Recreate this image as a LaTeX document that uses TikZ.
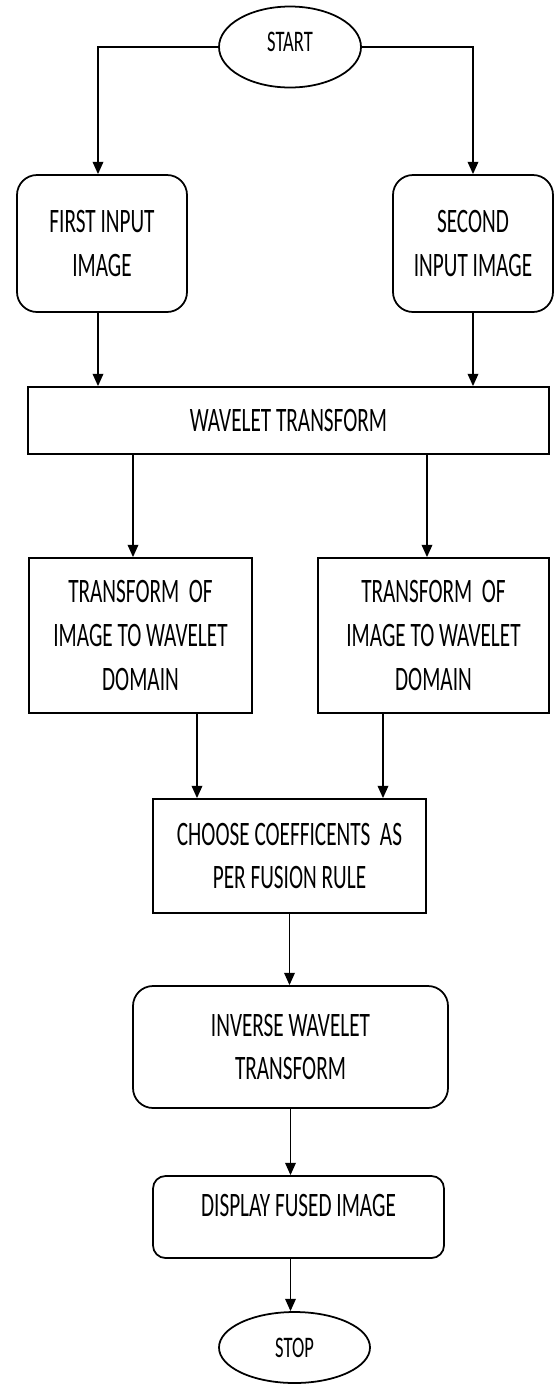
\documentclass[tikz,border=0pt]{standalone}
\usepackage{fontspec}
\setmainfont{Carlito}[FakeStretch=0.62]
\usetikzlibrary{arrows.meta, positioning, calc, shapes.geometric}

\begin{document}
\begin{tikzpicture}[
    box/.style={rectangle, draw, line width=1pt, fill=white, align=center, inner sep=0pt, font=\fontsize{19.5}{25}\selectfont},
    rbox/.style={box, rounded corners=0.4cm},
    term/.style={ellipse, draw, line width=1pt, fill=white, inner sep=0pt, font=\fontsize{17}{20}\selectfont},
    arrow/.style={-{Triangle[width=6pt,length=7pt]}, line width=1pt}
]

    % Page frame
    \useasboundingbox (0,0) rectangle (11.1,-27.7);

    % --- Terminals ---
    \node[term, minimum width=2.84cm, minimum height=1.62cm, text depth=0.2cm] (start) at (5.8,-0.94) {START};
    \node[term, minimum width=3.02cm, minimum height=1.42cm] (stop) at (5.89,-26.95) {STOP};

    % --- Inputs ---
    \node[rbox, minimum width=3.4cm, minimum height=2.74cm] (first) at (2.04,-4.87) {FIRST INPUT\\IMAGE};
    \node[rbox, minimum width=3.2cm, minimum height=2.74cm] (second) at (9.46,-4.87) {SECOND\\INPUT IMAGE};

    % --- Transform stage ---
    \node[box, minimum width=10.42cm, minimum height=1.34cm] (wavelet) at (5.77,-8.41) {WAVELET TRANSFORM};
    \node[box, minimum width=4.46cm, minimum height=3.1cm] (tleft) at (2.81,-12.71) {TRANSFORM\ \ OF\\IMAGE TO WAVELET\\DOMAIN};
    \node[box, minimum width=4.62cm, minimum height=3.1cm] (tright) at (8.67,-12.71) {TRANSFORM\ \ OF\\IMAGE TO WAVELET\\DOMAIN};

    % --- Fusion and output ---
    \node[box, minimum width=5.46cm, minimum height=2.28cm] (choose) at (5.79,-17.12) {CHOOSE COEFFICENTS\ \ AS\\PER FUSION RULE};
    \node[rbox, minimum width=6.3cm, minimum height=2.44cm] (inverse) at (5.81,-20.94) {INVERSE WAVELET\\TRANSFORM};
    \node[box, rounded corners=0.25cm, minimum width=5.82cm, minimum height=1.64cm, text depth=0.45cm] (display) at (5.97,-24.34) {DISPLAY FUSED IMAGE};

    % --- Connectors ---
    \draw [arrow] (start.west) -| ($(first.north)+(-0.08,0)$);
    \draw [arrow] (start.east) -| (second.north);

    \draw [arrow] ($(first.south)+(-0.08,0)$) -- ($(first.south |- wavelet.north)+(-0.08,0)$);
    \draw [arrow] (second.south) -- (second.south |- wavelet.north);

    \draw [arrow] ($(tleft.north |- wavelet.south)+(-0.15,0)$) -- ($(tleft.north)+(-0.15,0)$);
    \draw [arrow] ($(tright.north |- wavelet.south)+(-0.13,0)$) -- ($(tright.north)+(-0.13,0)$);

    \coordinate (tl_out) at ($(tleft.south)+(1.13,0)$);
    \coordinate (tr_out) at ($(tright.south)+(-1.01,0)$);
    \draw [arrow] (tl_out) -- (tl_out |- choose.north);
    \draw [arrow] (tr_out) -- (tr_out |- choose.north);

    \draw [arrow] (choose.south) -- (choose.south |- inverse.north);
    \draw [arrow] (inverse.south) -- (inverse.south |- display.north);
    \draw [arrow] (inverse.south |- display.south) -- (inverse.south |- stop.north);

\end{tikzpicture}
\end{document}
